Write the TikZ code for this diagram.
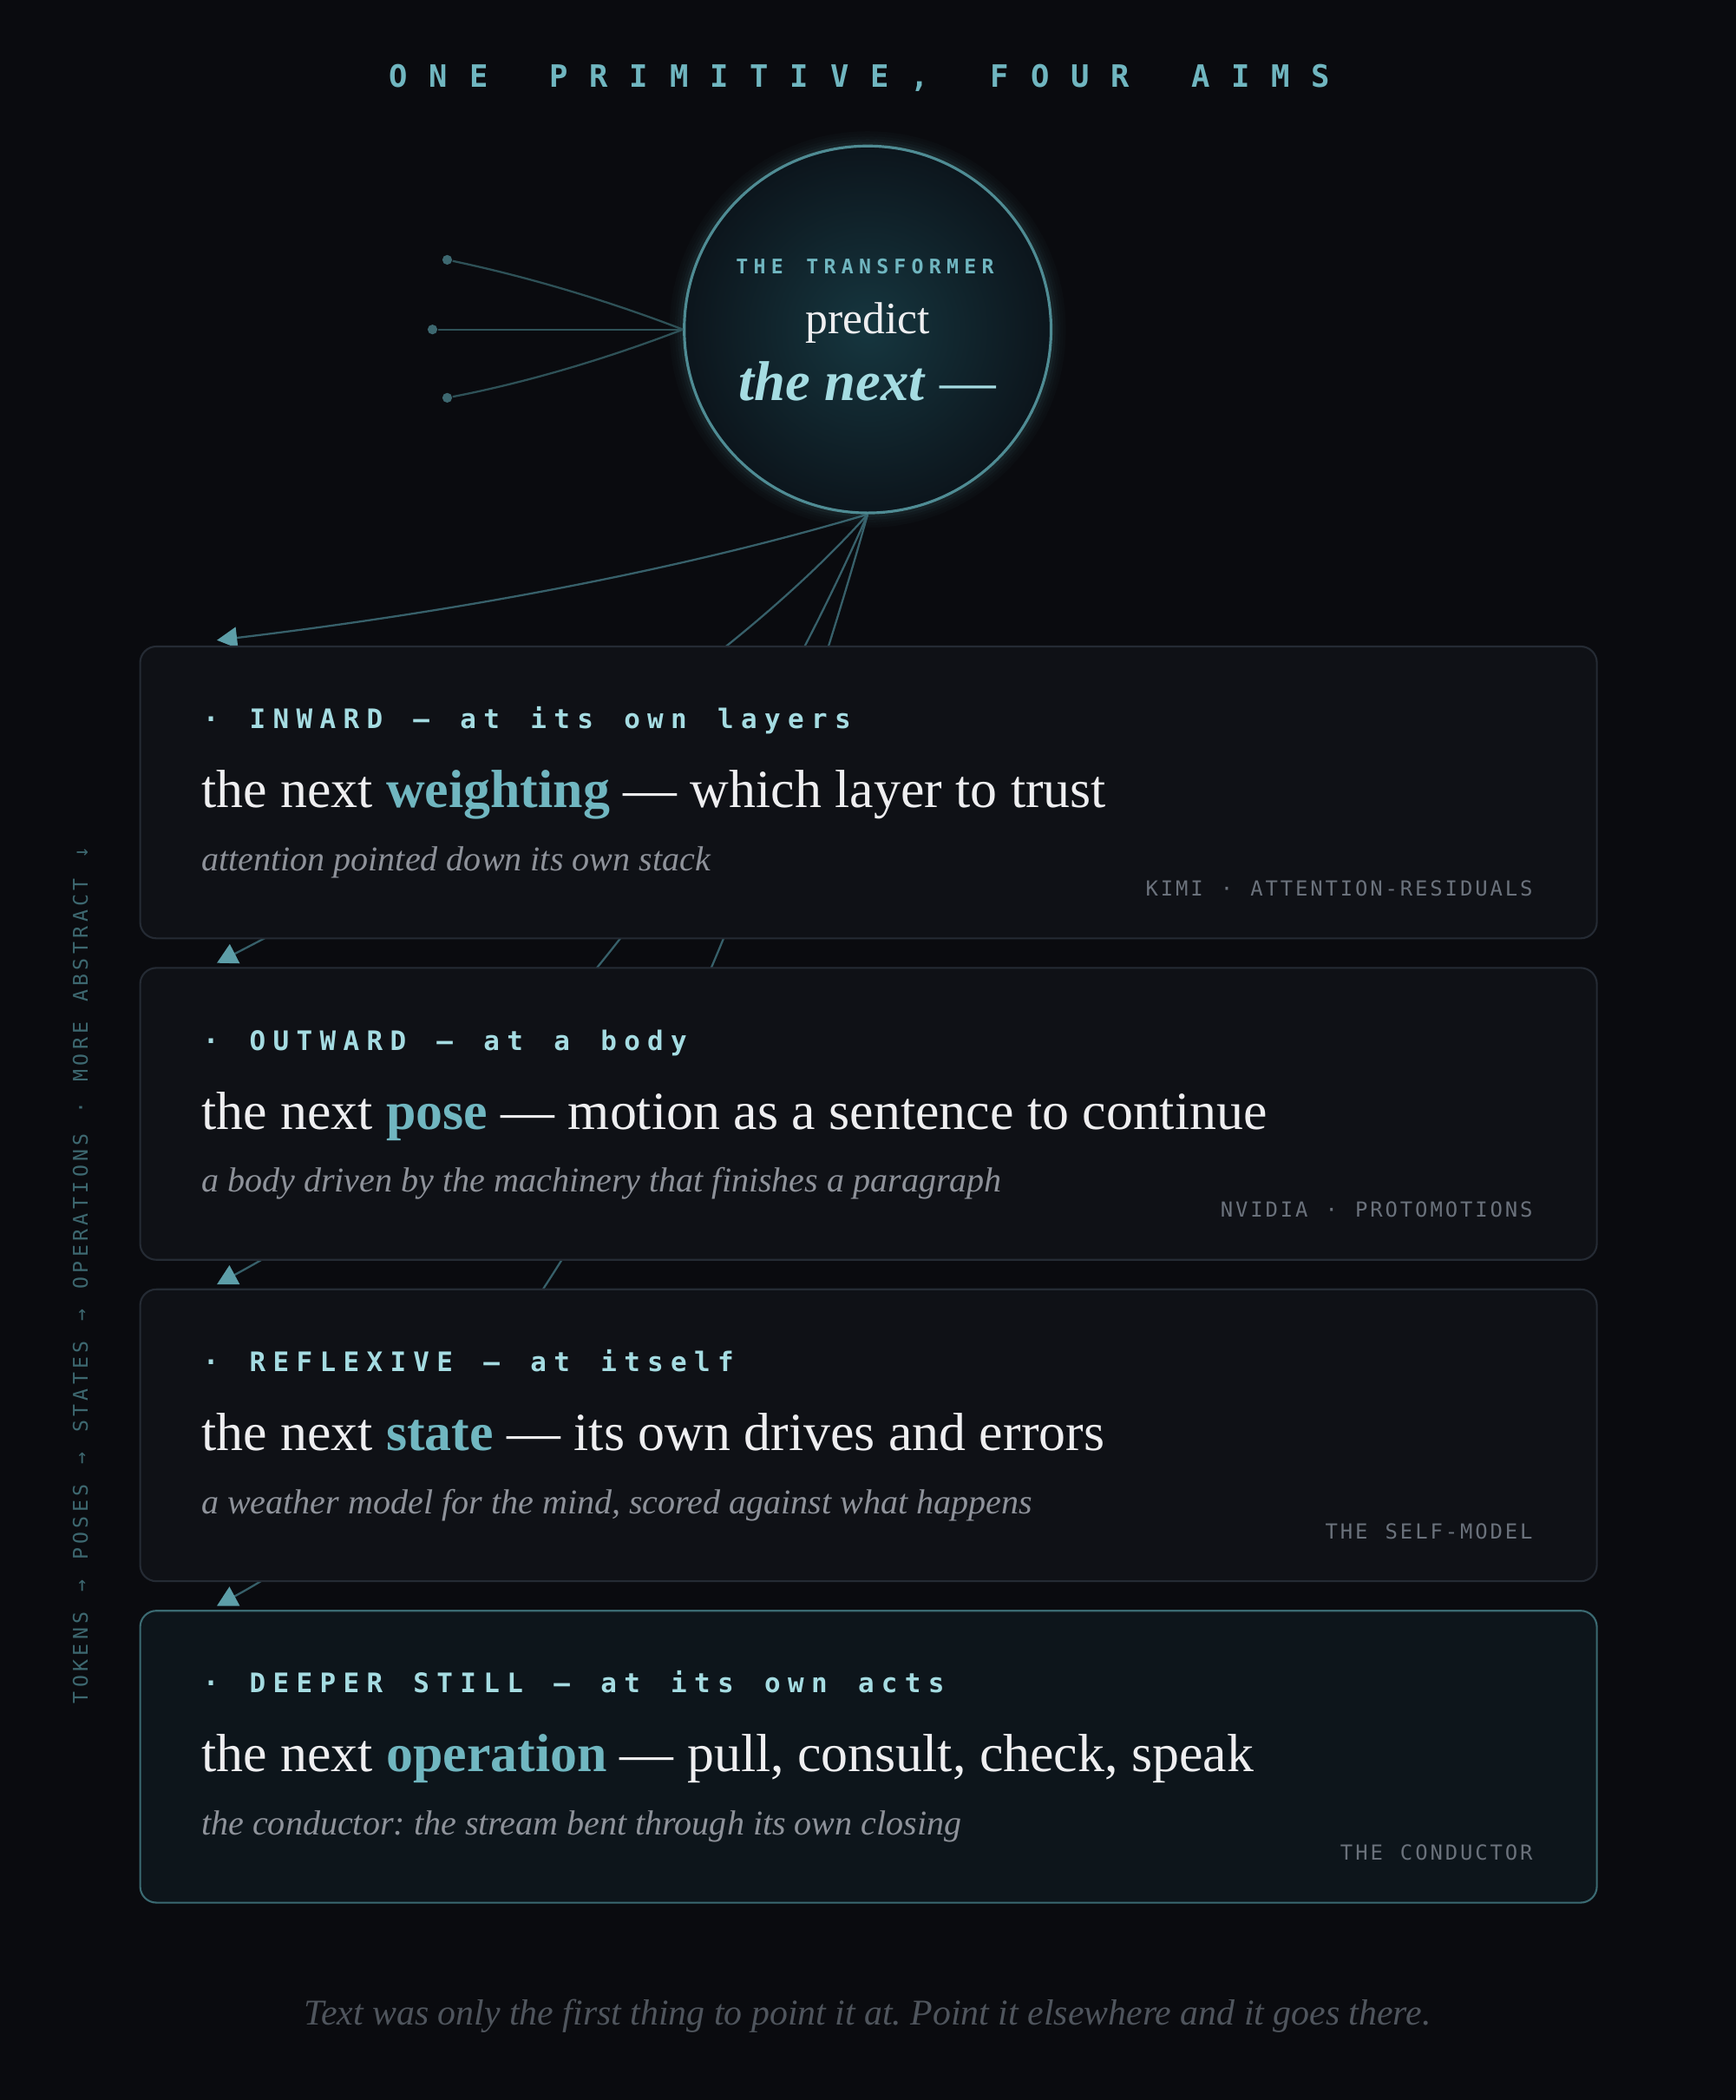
\documentclass[tikz,border=0pt]{standalone}
\usepackage{fontspec}
\usetikzlibrary{calc,arrows.meta}
\setmainfont{Liberation Serif}
\newfontfamily\titlemono[LetterSpace=70,WordSpace=1.538]{DejaVu Sans Mono}
\newfontfamily\aimmono[LetterSpace=27,WordSpace=1.31]{DejaVu Sans Mono}
\newfontfamily\tagmono[LetterSpace=12,WordSpace=1.166]{DejaVu Sans Mono}
\newfontfamily\sidemono[LetterSpace=19,WordSpace=1.24]{DejaVu Sans Mono}
\frenchspacing

\definecolor{page}{HTML}{0A0B0F}
\definecolor{cardbg}{HTML}{0F1116}
\definecolor{cardline}{HTML}{252B34}
\definecolor{deepbg}{HTML}{0D151B}
\definecolor{deepline}{HTML}{3B6A72}
\definecolor{aimteal}{HTML}{70B6C0}
\definecolor{aimpale}{HTML}{A5DCE2}
\definecolor{ink}{HTML}{EEEEF0}
\definecolor{dimink}{HTML}{8E929A}
\definecolor{tagink}{HTML}{6B727C}
\definecolor{footink}{HTML}{4F555D}
\definecolor{sideink}{HTML}{3D6870}
\definecolor{wire}{HTML}{37606A}
\definecolor{wirehead}{HTML}{5D9EA8}
\definecolor{feedwire}{HTML}{2E5157}
\definecolor{ringline}{HTML}{4F8C94}
\definecolor{ringin}{HTML}{16363F}
\definecolor{ringout}{HTML}{0C151C}

\pgfdeclarelayer{back}
\pgfdeclarelayer{links}
\pgfsetlayers{back,links,main}

\tikzset{
  card/.style={draw=cardline, fill=cardbg, line width=0.6pt, rounded corners=5.3pt,
    minimum width=477.7pt, minimum height=95.7pt, inner sep=0pt},
  deepcard/.style={card, draw=deepline, fill=deepbg},
  aimlabel/.style={font=\aimmono\bfseries\fontsize{8.8}{10}\selectfont, text=aimpale, inner sep=0pt, anchor=base west},
  aimline/.style={font=\fontsize{17.6}{20}\selectfont, text=ink, inner sep=0pt, anchor=base west},
  aimsub/.style={font=\itshape\fontsize{11.4}{13}\selectfont, text=dimink, inner sep=0pt, anchor=base west},
  aimtag/.style={font=\tagmono\fontsize{6.8}{8}\selectfont, text=tagink, inner sep=0pt, anchor=base east},
  link/.style={draw=wire, line width=0.65pt, -{Triangle[length=6.6pt,width=7pt,color=wirehead]}},
  feed/.style={draw=feedwire, line width=0.65pt},
  feeddot/.style={circle, fill=sideink, inner sep=0pt, minimum size=3.2pt},
}

% one card: top, name, style, label, word, rest, subline, tag
\newcommand{\aim}[8]{
  \node[#3, anchor=north west] (#2) at (104,#1) {};
  \node[aimlabel] (#2-label) at ($(#2.north west)+(47,62)$) {· #4};
  \node[aimline] (#2-line) at ($(#2.north west)+(46,121)$) {the next \textbf{\textcolor{aimteal}{#5}} — #6};
  \node[aimsub] (#2-sub) at ($(#2.north west)+(46,168)$) {#7};
  \node[aimtag] (#2-tag) at ($(#2.north west)+(1041,187)$) {#8};
}

\begin{document}
\begin{tikzpicture}[x=0.4391pt, y=-0.4391pt]
        \useasboundingbox (0,0) rectangle (1296,1568);
        \begin{pgfonlayer}{back}
            \fill[page] (-6,-6) rectangle (1302,1574);
        \end{pgfonlayer}

        \node[font=\titlemono\bfseries\fontsize{10.1}{12}\selectfont, text=aimteal] (title) at (642,58) {ONE PRIMITIVE, FOUR AIMS};

        % the hub
        \foreach \r/\o in {139/0.18,141/0.12,143/0.08,145/0.05,147/0.03}
            \draw[ringline, opacity=\o, line width=0.9pt] (648,246) circle (\r);
        \node[circle, minimum size=120.3pt, inner sep=0pt, draw=ringline, line width=0.9pt,
              shading=radial, inner color=ringin, outer color=ringout] (hub) at (648,246) {};
        \node[font=\aimmono\bfseries\fontsize{6.6}{8}\selectfont, text=aimteal] (hub-kind) at (646,199) {THE TRANSFORMER};
        \node[font=\fontsize{14.7}{16}\selectfont, text=ink] (hub-verb) at (648,241) {predict};
        \node[font=\fontsize{18.4}{20}\selectfont, text=aimpale] (hub-next) at (648,285) {\textbf{\textit{the next}} —};

        % inputs
        \node[feeddot] (src1) at (334,194) {};
        \node[feeddot] (src2) at (323,246) {};
        \node[feeddot] (src3) at (334,297) {};
        \draw[feed] (src1) .. controls (391,206) and (450,223) .. (hub.west);
        \draw[feed] (src2) -- (hub.west);
        \draw[feed] (src3) .. controls (391,286) and (450,269) .. (hub.west);

        % cards
        \aim{482}{inward}{card}{INWARD — at its own layers}{weighting}{which layer to trust}{attention pointed down its own stack}{KIMI · ATTENTION-RESIDUALS}
        \aim{722}{outward}{card}{OUTWARD — at a body}{pose}{motion as a sentence to continue}{a body driven by the machinery that finishes a paragraph}{NVIDIA · PROTOMOTIONS}
        \aim{962}{reflexive}{card}{REFLEXIVE — at itself}{state}{its own drives and errors}{a weather model for the mind, scored against what happens}{THE SELF-MODEL}
        \aim{1202}{deeper}{deepcard}{DEEPER STILL — at its own acts}{operation}{pull, consult, check, speak}{the conductor: the stream bent through its own closing}{THE CONDUCTOR}

        % links, behind the cards
        \begin{pgfonlayer}{links}
            \draw[link] (hub.south) .. controls (517,423) and (355,455) .. ($(inward.north west)+(58,-4)$);
            \draw[link] (hub.south) .. controls (555,488) and (393,600) .. ($(outward.north west)+(58,-3)$);
            \draw[link] (hub.south) .. controls (528,656) and (368,848) .. ($(reflexive.north west)+(58,-3)$);
            \draw[link] (hub.south) .. controls (526,818) and (364,1090) .. ($(deeper.north west)+(58,-3)$);
        \end{pgfonlayer}

        \node[rotate=90, font=\sidemono\fontsize{6.6}{8}\selectfont, text=sideink] (scale) at (60,952) {TOKENS → POSES → STATES → OPERATIONS · MORE ABSTRACT ↓};

        \node[font=\itshape\fontsize{11.9}{14}\selectfont, text=footink] (coda) at (648,1505) {Text was only the first thing to point it at. Point it elsewhere and it goes there.};
\end{tikzpicture}
\end{document}
